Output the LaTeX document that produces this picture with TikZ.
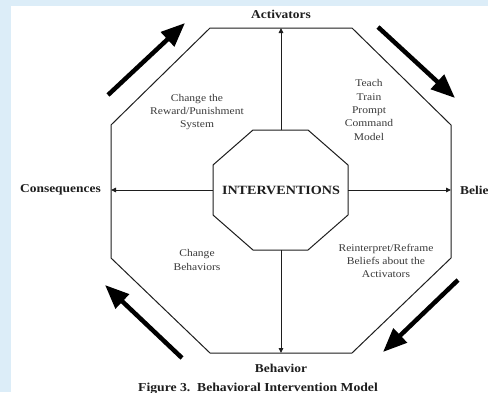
\documentclass[tikz,border=0pt]{standalone}
\usepackage{fontspec}
\setmainfont{Liberation Serif}
\newfontfamily\widefont[FakeStretch=1.12]{Liberation Serif}
\usetikzlibrary{arrows.meta}
\definecolor{bgblue}{HTML}{DCEDF8}
\definecolor{ink}{HTML}{1E1E1E}
\definecolor{labelink}{HTML}{3A3A3A}
\tikzset{
  octline/.style={draw=ink, line width=1pt, line join=miter},
  linkarrow/.style={draw=ink, line width=0.9pt, -{Triangle[width=4.5pt,length=5pt]}},
  flowarrow/.style={draw=black, line width=4.5pt, -{Triangle[width=19pt,length=24pt]}},
  mainlabel/.style={font=\widefont\bfseries\fontsize{12}{14}\selectfont, text=ink, inner sep=0pt},
  sidelabel/.style={font=\widefont\fontsize{10.3}{13.3}\selectfont, text=labelink, align=center, inner sep=0pt},
}
\begin{document}
\begin{tikzpicture}[x=1pt,y=-1pt]
\useasboundingbox (0,0) rectangle (488,392);
\fill[bgblue] (0,0) rectangle (488,392);
\fill[white] (11,6) rectangle (488,392);
% outer octagon
\draw[octline] (210,28) -- (352,28) -- (451,125) -- (451,258) -- (352,353) -- (210,353) -- (111,258) -- (111,125) -- cycle;
% inner octagon
\draw[octline] (253,130) -- (308,130) -- (348,165) -- (348,215) -- (308,250) -- (253,250) -- (213,215) -- (213,165) -- cycle;
% named coordinates
\coordinate (it) at (281,130);
\coordinate (ib) at (281,250);
\coordinate (il) at (213,190);
\coordinate (ir) at (348,190);
\coordinate (ot) at (281,28);
\coordinate (ob) at (281,353);
\coordinate (ol) at (111,190);
\coordinate (or) at (451,190);
\draw[linkarrow] (it) -- (ot);
\draw[linkarrow] (ib) -- (ob);
\draw[linkarrow] (il) -- (ol);
\draw[linkarrow] (ir) -- (or);
% texts
\node[mainlabel, font=\widefont\bfseries\fontsize{12.6}{15}\selectfont] (interv) at (281,190) {INTERVENTIONS};
\node[mainlabel] (act) at (281,14) {Activators};
\node[mainlabel] (beh) at (281,368) {Behavior};
\node[mainlabel, anchor=east] (cons) at (101,190) {Consequences};
\node[mainlabel, anchor=west] (bel) at (460,190) {Beliefs};
\node[mainlabel, font=\widefont\bfseries\fontsize{12.2}{14}\selectfont, anchor=base] (cap) at (258,391.5) {Figure 3.\ \ Behavioral Intervention Model};
\node[sidelabel] (rew) at (197,112) {Change the\\Reward/Punishment\\System};
\node[sidelabel] (teach) at (369,110) {Teach\\Train\\Prompt\\Command\\Model};
\node[sidelabel] (chb) at (197,260) {Change\\Behaviors};
\node[sidelabel] (rein) at (386,261) {Reinterpret/Reframe\\Beliefs about the\\Activators};
% big flow arrows
\coordinate (a1s) at (108,95);  \coordinate (a1e) at (185,23);
\coordinate (a2s) at (378,27);  \coordinate (a2e) at (455,98);
\coordinate (a3s) at (458,280); \coordinate (a3e) at (383,352);
\coordinate (a4s) at (182,358); \coordinate (a4e) at (105,285);
\draw[flowarrow] (a1s) -- (a1e);
\draw[flowarrow] (a2s) -- (a2e);
\draw[flowarrow] (a3s) -- (a3e);
\draw[flowarrow] (a4s) -- (a4e);
\end{tikzpicture}
\end{document}
